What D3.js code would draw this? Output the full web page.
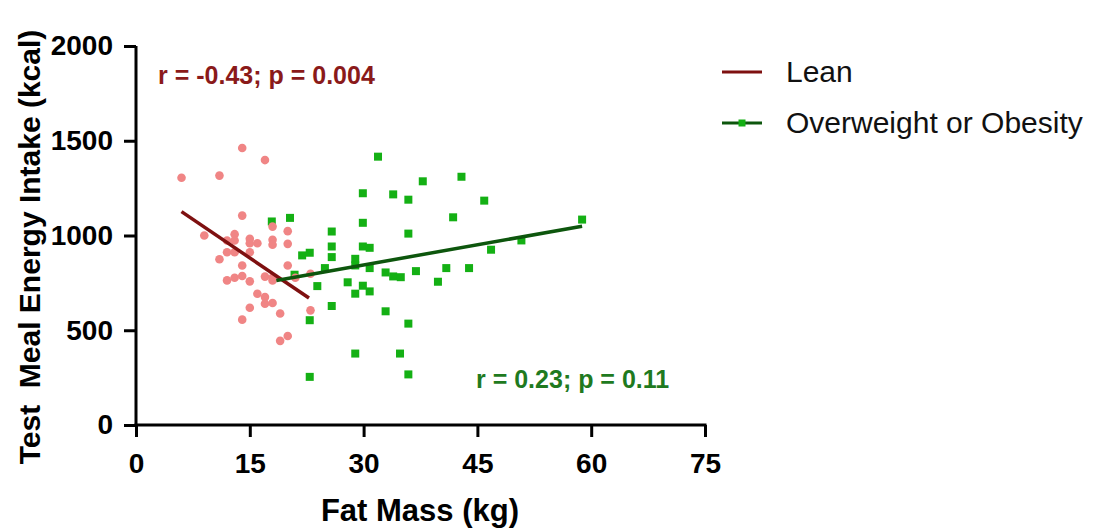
<!DOCTYPE html>
<html>
<head>
<meta charset="utf-8">
<script src="https://cdn.jsdelivr.net/npm/d3@7"></script>
<style>
  html, body { margin: 0; padding: 0; background: #fff; }
  svg { display: block; }
  text { font-family: "Liberation Sans", Arial, sans-serif; }
</style>
</head>
<body>
<svg id="chart" width="1098" height="528"></svg>
<script>
// Lean group: fat mass (kg) and test meal energy intake (kcal)
const leanFat  = [6, 11, 14, 17, 14, 9, 13, 13, 12, 15, 15, 16, 18, 18, 20, 20, 18, 12, 13, 11, 15, 14, 20, 12, 13, 14, 15, 17, 18, 18, 21, 23, 16, 17, 17, 18, 15, 19, 14, 23, 19, 20];
const leanKcal = [1305, 1316, 1462, 1398, 1105, 1000, 1007, 974, 974, 983, 959, 959, 977, 951, 1023, 956, 1047, 912, 912, 875, 912, 842, 842, 763, 777, 786, 758, 783, 777, 763, 777, 798, 693, 675, 640, 644, 619, 588, 556, 605, 444, 470];

// Overweight or obesity group
const owFat  = [31.9, 37.8, 29.9, 33.9, 35.9, 29.9, 25.8, 35.9, 20.3, 17.9, 25.8, 29.9, 30.8, 25.8, 21.9, 22.9, 28.9, 28.9, 24.9, 30.8, 32.9, 33.9, 34.9, 36.9, 39.8, 20.9, 23.9, 27.9, 29.9, 28.9, 30.8, 25.8, 32.9, 22.9, 35.9, 28.9, 34.8, 22.9, 35.9, 42.9, 45.9, 41.8, 58.8, 50.8, 46.8, 40.9, 43.9];
const owKcal = [1416, 1286, 1223, 1217, 1189, 1067, 1021, 1010, 1093, 1074, 942, 942, 935, 886, 895, 909, 877, 842, 828, 828, 805, 784, 780, 812, 756, 793, 733, 753, 735, 693, 705, 628, 600, 553, 535, 377, 377, 254, 267, 1310, 1184, 1096, 1084, 974, 925, 828, 828];

// Regression line end points [fat mass, kcal]
const leanFitFat  = [6, 22.8];
const leanFitKcal = [1126, 670];
const owFitFat    = [18.5, 58.8];
const owFitKcal   = [763, 1049];

const xTicks = [0, 15, 30, 45, 60, 75];
const yTicks = [0, 500, 1000, 1500, 2000];

const seriesNames = ["Lean", "Overweight or Obesity"];
const statLabels  = ["r = -0.43; p = 0.004", "r = 0.23; p = 0.11"];

const colors = {
  leanDot: "#f08585",
  leanLine: "#7e1010",
  leanText: "#8a1a1a",
  owDot: "#14b014",
  owLine: "#0d560d",
  owText: "#1f7a1f"
};

const svg = d3.select("#chart");

const x = d3.scaleLinear().domain([0, 75]).range([136, 705]);
const y = d3.scaleLinear().domain([0, 2000]).range([425, 46]);

// Axes
const xAxis = svg.append("g")
  .attr("transform", `translate(0,${y(0)})`)
  .call(d3.axisBottom(x).tickValues(xTicks).tickFormat(d3.format("d"))
    .tickSize(12).tickSizeOuter(0).tickPadding(16));
const yAxis = svg.append("g")
  .attr("transform", `translate(${x(0)},0)`)
  .call(d3.axisLeft(y).tickValues(yTicks).tickFormat(d3.format("d"))
    .tickSize(12).tickSizeOuter(0).tickPadding(11));

[xAxis, yAxis].forEach(ax => {
  ax.select(".domain").attr("stroke", "#000").attr("stroke-width", 3);
  ax.selectAll(".tick line").attr("stroke", "#000").attr("stroke-width", 3);
  ax.selectAll(".tick text")
    .attr("fill", "#000")
    .style("font-size", "28px")
    .style("font-weight", "bold")
    .style("font-family", "'Liberation Sans', Arial, sans-serif");
});
xAxis.select(".domain").attr("d", `M${x(0) - 1.5},0H${x(75) + 1.5}`);
yAxis.select(".domain").attr("d", `M0,${y(2000)}V${y(0) + 1.5}`);

// Axis titles
svg.append("text")
  .attr("x", 420).attr("y", 521)
  .attr("text-anchor", "middle")
  .style("font-size", "31px").style("font-weight", "bold")
  .text("Fat Mass (kg)");

svg.append("text")
  .attr("transform", "translate(40,247) rotate(-90)")
  .attr("text-anchor", "middle")
  .style("font-size", "30px").style("font-weight", "bold")
  .style("white-space", "pre")
  .text("Test  Meal Energy Intake (kcal)");

// Overweight / obesity points (squares)
const sq = 8;
svg.append("g").selectAll("rect")
  .data(d3.range(owFat.length))
  .join("rect")
  .attr("x", i => x(owFat[i]) - sq / 2)
  .attr("y", i => y(owKcal[i]) - sq / 2)
  .attr("width", sq).attr("height", sq)
  .attr("fill", colors.owDot);

// Lean points (circles)
svg.append("g").selectAll("circle")
  .data(d3.range(leanFat.length))
  .join("circle")
  .attr("cx", i => x(leanFat[i]))
  .attr("cy", i => y(leanKcal[i]))
  .attr("r", 4.3)
  .attr("fill", colors.leanDot);

// Regression lines
const line = d3.line().x(d => x(d[0])).y(d => y(d[1]));
svg.append("path")
  .attr("d", line(d3.zip(leanFitFat, leanFitKcal)))
  .attr("fill", "none").attr("stroke", colors.leanLine).attr("stroke-width", 3.5);
svg.append("path")
  .attr("d", line(d3.zip(owFitFat, owFitKcal)))
  .attr("fill", "none").attr("stroke", colors.owLine).attr("stroke-width", 3.5);

// Correlation statistics
svg.append("text")
  .attr("x", 158).attr("y", 84)
  .attr("fill", colors.leanText)
  .style("font-size", "25px").style("font-weight", "bold")
  .text(statLabels[0]);
svg.append("text")
  .attr("x", 476).attr("y", 388)
  .attr("fill", colors.owText)
  .style("font-size", "25px").style("font-weight", "bold")
  .text(statLabels[1]);

// Legend
const legend = svg.append("g");
const legendRows = [
  { name: seriesNames[0], line: colors.leanLine, marker: null, y: 72 },
  { name: seriesNames[1], line: colors.owLine, marker: colors.owDot, y: 123 }
];
legendRows.forEach(r => {
  legend.append("line")
    .attr("x1", 722).attr("x2", 762).attr("y1", r.y).attr("y2", r.y)
    .attr("stroke", r.line).attr("stroke-width", 3);
  if (r.marker) {
    legend.append("rect")
      .attr("x", 742 - 3.5).attr("y", r.y - 3.5)
      .attr("width", 7).attr("height", 7)
      .attr("fill", r.marker);
  }
  legend.append("text")
    .attr("x", 786).attr("y", r.y + 10)
    .attr("fill", "#111")
    .style("font-size", "30px")
    .text(r.name);
});
</script>
</body>
</html>
